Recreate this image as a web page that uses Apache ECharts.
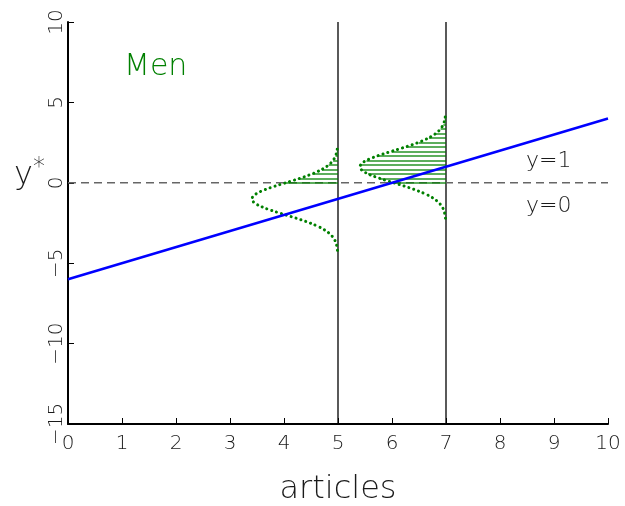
<!DOCTYPE html>
<html><head><meta charset="utf-8">
<script src="https://cdn.jsdelivr.net/npm/echarts@6/dist/echarts.min.js"></script>
<style>html,body{margin:0;padding:0;background:#fff;overflow:hidden}#c{width:625px;height:506px}</style>
</head><body><div id="c"></div>
<script>
// ---- data ----
const lineX = [0, 10];          // blue regression line
const lineY = [-6, 4];
const cutX = [5, 7];            // vertical reference lines (articles)
const curveMeans = [-1, 1];     // centre of each density on y*
const devs = [-3.2,-3.0,-2.8,-2.6,-2.4,-2.2,-2.0,-1.8,-1.6,-1.4,-1.2,-1.0,-0.8,-0.6,-0.4,-0.2,0,
              0.2,0.4,0.6,0.8,1.0,1.2,1.4,1.6,1.8,2.0,2.2,2.4,2.6,2.8,3.0,3.2];
const widths = [0.010,0.018,0.032,0.054,0.090,0.142,0.216,0.316,0.444,0.599,0.777,0.968,1.159,1.333,1.473,1.564,1.596,
                1.564,1.473,1.333,1.159,0.968,0.777,0.599,0.444,0.316,0.216,0.142,0.090,0.054,0.032,0.018,0.010];
const thresholdY = 0;           // dashed y*=0 line
const thresholdX = [0, 10];
const hatchStep = 0.28;
const xMin = 0, xMax = 10, xInterval = 1;
const yMin = -15, yMax = 10, yInterval = 5;

const FONT = 'DejaVu Sans';
const TXT = '#1a1a1a';
const chart = echarts.init(document.getElementById('c'), null, {renderer: 'canvas', width: 625, height: 506});

function profileAt(d) {
  if (d <= devs[0] || d >= devs[devs.length - 1]) return 0;
  for (let i = 0; i < devs.length - 1; i++) {
    if (d >= devs[i] && d <= devs[i + 1]) {
      const t = (d - devs[i]) / (devs[i + 1] - devs[i]);
      return widths[i] + t * (widths[i + 1] - widths[i]);
    }
  }
  return 0;
}

const series = [];
// vertical lines
cutX.forEach(cx => series.push({
  type: 'line', data: [[cx, yMin], [cx, yMax]], showSymbol: false, silent: true,
  lineStyle: {color: '#000', width: 1.3}, z: 2
}));
// dashed threshold
series.push({
  type: 'line', data: [[thresholdX[0], thresholdY], [thresholdX[1], thresholdY]], showSymbol: false,
  lineStyle: {color: '#666', width: 1.5, type: [8, 5]}, z: 3
});
// hatch lines + density curves
cutX.forEach((cx, k) => {
  const m = curveMeans[k];
  const hatch = [];
  for (let y = thresholdY; y <= m + devs[devs.length - 1] - 0.05; y += hatchStep) {
    const w = profileAt(y - m);
    hatch.push({coords: [[cx - w, y], [cx, y]]});
  }
  series.push({
    type: 'lines', coordinateSystem: 'cartesian2d', data: hatch, silent: true,
    lineStyle: {color: 'rgba(0,128,0,0.85)', width: 1.6, opacity: 1}, z: 4
  });
  series.push({
    type: 'line', data: devs.map((d, i) => [cx - widths[i], m + d]), showSymbol: false, smooth: 0.2,
    lineStyle: {color: '#008000', width: 3, type: [0.1, 5], cap: 'round'}, z: 5
  });
});
// blue line
series.push({
  type: 'line', data: lineX.map((x, i) => [x, lineY[i]]), showSymbol: false,
  lineStyle: {color: '#0000ff', width: 2.5}, z: 6
});

chart.setOption({
  animation: false,
  backgroundColor: '#fff',
  grid: {left: 68, right: 17, top: 22, bottom: 82, containLabel: false, outerBoundsMode: 'none'},
  xAxis: {
    type: 'value', min: xMin, max: xMax, interval: xInterval,
    name: 'articles', nameLocation: 'middle', nameGap: 50,
    nameTextStyle: {fontFamily: FONT, fontSize: 32, fontWeight: 200, color: TXT},
    axisLine: {show: true, onZero: false, lineStyle: {color: '#000', width: 2}},
    axisTick: {show: true, inside: true, length: 6, lineStyle: {color: '#000', width: 1}},
    axisLabel: {fontFamily: FONT, fontSize: 20, fontWeight: 200, color: TXT, margin: 10},
    splitLine: {show: false}
  },
  yAxis: {
    type: 'value', min: yMin, max: yMax, interval: yInterval,
    axisLine: {show: true, onZero: false, lineStyle: {color: '#000', width: 2}},
    axisTick: {show: true, inside: true, length: 6, lineStyle: {color: '#000', width: 1}},
    axisLabel: {fontFamily: FONT, fontSize: 20, fontWeight: 200, color: TXT, margin: 1, rotate: 90,
      formatter: v => (v < 0 ? '\u2212' + Math.abs(v) : String(v))},
    splitLine: {show: false}
  },
  graphic: [
    {type: 'text', left: 124, top: 52, style: {text: 'Men', fontFamily: FONT, fontSize: 30, fontWeight: 200, fill: '#008000'}},
    {type: 'text', left: 14, top: 160, style: {text: 'y', fontFamily: FONT, fontSize: 32, fontWeight: 200, fill: TXT}},
    {type: 'text', left: 33, top: 156, style: {text: '*', fontFamily: FONT, fontSize: 24, fontWeight: 200, fill: TXT}},
    {type: 'text', left: 526, top: 150, style: {text: 'y=1', fontFamily: FONT, fontSize: 22, fontWeight: 200, fill: TXT}},
    {type: 'text', left: 526, top: 195, style: {text: 'y=0', fontFamily: FONT, fontSize: 22, fontWeight: 200, fill: TXT}}
  ],
  series: series
});
</script></body></html>
